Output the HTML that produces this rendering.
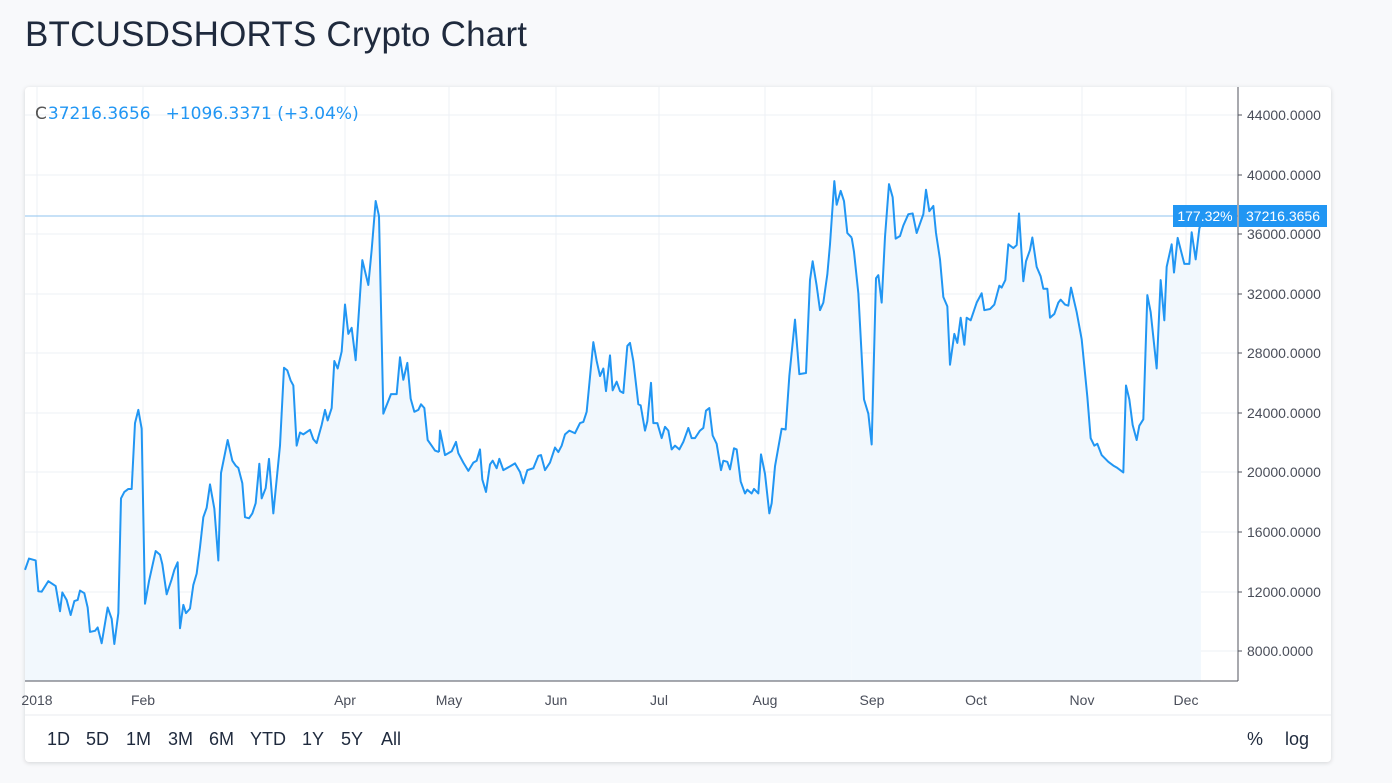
<!DOCTYPE html>
<html><head><meta charset="utf-8"><style>
body{margin:0;width:1392px;height:783px;background:#f8f9fb;font-family:"Liberation Sans",sans-serif;overflow:hidden;position:relative}
.title{position:absolute;left:25px;top:15px;font-size:35px;color:#1f2a3d;letter-spacing:0.2px}
.card{position:absolute;left:25px;top:87px;width:1306px;height:675px;background:#fff;border-radius:4px;box-shadow:0 1px 5px rgba(0,0,0,0.15)}
svg{position:absolute;left:0;top:0}
.tb{position:absolute;top:729px;font-size:18px;color:#1f2a3d}
</style></head><body>
<div class="title">BTCUSDSHORTS Crypto Chart</div>
<div class="card"></div>
<svg width="1392" height="783" font-family="Liberation Sans, sans-serif">
<g stroke="#eef1f5" stroke-width="1">
<line x1="25" x2="1238" y1="115" y2="115"/><line x1="25" x2="1238" y1="175" y2="175"/><line x1="25" x2="1238" y1="234" y2="234"/><line x1="25" x2="1238" y1="294" y2="294"/><line x1="25" x2="1238" y1="353" y2="353"/><line x1="25" x2="1238" y1="413" y2="413"/><line x1="25" x2="1238" y1="472" y2="472"/><line x1="25" x2="1238" y1="532" y2="532"/><line x1="25" x2="1238" y1="592" y2="592"/><line x1="25" x2="1238" y1="651" y2="651"/>
<line x1="37" x2="37" y1="87" y2="681"/><line x1="143" x2="143" y1="87" y2="681"/><line x1="345" x2="345" y1="87" y2="681"/><line x1="449" x2="449" y1="87" y2="681"/><line x1="556" x2="556" y1="87" y2="681"/><line x1="659" x2="659" y1="87" y2="681"/><line x1="765" x2="765" y1="87" y2="681"/><line x1="872" x2="872" y1="87" y2="681"/><line x1="976" x2="976" y1="87" y2="681"/><line x1="1082" x2="1082" y1="87" y2="681"/><line x1="1186" x2="1186" y1="87" y2="681"/>
</g>
<g fill="#f2f8fd" stroke="none">
<polygon transform="translate(25,90) scale(0.33333,0.37636)" points="0,1570 0,1275 12,1245 32,1250 40,1332 50,1333 70,1305 92,1318 105,1385 112,1335 125,1355 137,1395 148,1358 158,1355 165,1330 178,1337 188,1375 195,1440 210,1437 218,1428 230,1470 248,1375 260,1405 268,1472 280,1390 288,1085 298,1068 310,1060 320,1060 330,885 340,850 350,900 360,1365 372,1305 382,1265 392,1225 405,1235 412,1260 425,1340 440,1300 448,1275 458,1255 465,1430 475,1368 483,1390 495,1378 505,1315 515,1285 525,1215 535,1135 545,1110 555,1048 568,1112 580,1250 588,1018 608,930 622,985 632,998 640,1004 652,1045 660,1135 672,1138 682,1125 692,1098 703,993 710,1085 722,1058 732,980 745,1125 765,945 777,738 787,745 797,772 805,785 815,945 825,910 835,915 855,903 865,928 875,938 890,890 900,850 908,878 920,845 928,720 938,740 950,695 960,570 970,648 980,632 992,718 1012,452 1030,518 1040,425 1052,295 1062,335 1075,860 1098,808 1115,808 1125,710 1135,770 1147,725 1157,820 1168,855 1180,850 1188,835 1198,845 1208,930 1220,945 1230,958 1242,962 1245,1570"/>
<polygon transform="translate(440,90) scale(0.33333,0.37636)" points="-3,1570 -3,962 0,905 15,970 35,960 48,935 55,965 70,990 85,1012 100,990 110,985 120,955 127,1035 138,1068 150,995 158,985 170,1005 178,980 190,1010 210,1000 225,992 240,1015 250,1045 262,1010 280,1005 295,972 303,970 315,1010 330,990 345,950 355,962 365,945 375,915 388,905 405,912 420,885 430,882 440,855 460,670 470,720 480,760 490,740 498,800 510,705 518,798 530,775 540,800 550,805 562,680 570,672 580,720 595,835 602,838 615,905 622,880 633,778 640,885 652,885 665,925 675,895 685,905 695,955 705,945 718,955 730,935 745,898 755,925 765,925 780,905 790,898 798,852 808,845 818,918 830,940 843,1010 850,985 862,988 870,1008 882,952 890,955 902,1040 915,1072 922,1062 935,1072 942,1060 955,1072 963,968 975,1020 988,1125 995,1098 1005,1000 1025,900 1037,902 1048,760 1065,610 1078,755 1098,752 1110,505 1118,455 1130,520 1140,585 1150,565 1162,490 1170,410 1183,242 1190,305 1202,268 1212,295 1222,380 1235,392 1235,1570"/>
<polygon transform="translate(850,90) scale(0.33333,0.37636)" points="5,1570 5,392 12,430 25,540 42,822 55,860 65,942 78,500 85,492 95,565 105,390 117,250 128,285 137,395 150,388 160,360 175,330 188,328 200,380 220,330 228,265 238,322 250,308 258,380 270,450 280,550 292,575 300,730 313,648 322,672 332,605 343,677 350,605 362,612 380,565 395,540 403,585 420,582 433,570 448,520 455,525 466,505 475,410 490,420 500,412 507,328 520,508 528,455 540,425 547,392 560,470 572,495 580,528 592,528 600,605 613,595 625,565 632,557 645,570 655,573 663,525 680,590 695,662 712,815 722,925 733,945 742,940 755,970 775,988 790,998 800,1003 820,1016 828,785 838,822 848,890 860,930 868,892 880,875 892,545 902,590 920,740 932,505 943,612 950,470 965,410 972,485 983,393 1003,462 1018,462 1025,378 1037,450 1048,368 1053,355 1053,1570"/>
</g>
<line x1="25" x2="1238" y1="216" y2="216" stroke="#8fc3ef" stroke-width="1"/>
<g fill="none" stroke="#2196f3" stroke-width="2" stroke-linejoin="round">
<polyline vector-effect="non-scaling-stroke" transform="translate(25,90) scale(0.33333,0.37636)" points="0,1275 12,1245 32,1250 40,1332 50,1333 70,1305 92,1318 105,1385 112,1335 125,1355 137,1395 148,1358 158,1355 165,1330 178,1337 188,1375 195,1440 210,1437 218,1428 230,1470 248,1375 260,1405 268,1472 280,1390 288,1085 298,1068 310,1060 320,1060 330,885 340,850 350,900 360,1365 372,1305 382,1265 392,1225 405,1235 412,1260 425,1340 440,1300 448,1275 458,1255 465,1430 475,1368 483,1390 495,1378 505,1315 515,1285 525,1215 535,1135 545,1110 555,1048 568,1112 580,1250 588,1018 608,930 622,985 632,998 640,1004 652,1045 660,1135 672,1138 682,1125 692,1098 703,993 710,1085 722,1058 732,980 745,1125 765,945 777,738 787,745 797,772 805,785 815,945 825,910 835,915 855,903 865,928 875,938 890,890 900,850 908,878 920,845 928,720 938,740 950,695 960,570 970,648 980,632 992,718 1012,452 1030,518 1040,425 1052,295 1062,335 1075,860 1098,808 1115,808 1125,710 1135,770 1147,725 1157,820 1168,855 1180,850 1188,835 1198,845 1208,930 1220,945 1230,958 1242,962"/>
<polyline vector-effect="non-scaling-stroke" transform="translate(440,90) scale(0.33333,0.37636)" points="-3,962 0,905 15,970 35,960 48,935 55,965 70,990 85,1012 100,990 110,985 120,955 127,1035 138,1068 150,995 158,985 170,1005 178,980 190,1010 210,1000 225,992 240,1015 250,1045 262,1010 280,1005 295,972 303,970 315,1010 330,990 345,950 355,962 365,945 375,915 388,905 405,912 420,885 430,882 440,855 460,670 470,720 480,760 490,740 498,800 510,705 518,798 530,775 540,800 550,805 562,680 570,672 580,720 595,835 602,838 615,905 622,880 633,778 640,885 652,885 665,925 675,895 685,905 695,955 705,945 718,955 730,935 745,898 755,925 765,925 780,905 790,898 798,852 808,845 818,918 830,940 843,1010 850,985 862,988 870,1008 882,952 890,955 902,1040 915,1072 922,1062 935,1072 942,1060 955,1072 963,968 975,1020 988,1125 995,1098 1005,1000 1025,900 1037,902 1048,760 1065,610 1078,755 1098,752 1110,505 1118,455 1130,520 1140,585 1150,565 1162,490 1170,410 1183,242 1190,305 1202,268 1212,295 1222,380 1235,392"/>
<polyline vector-effect="non-scaling-stroke" transform="translate(850,90) scale(0.33333,0.37636)" points="5,392 12,430 25,540 42,822 55,860 65,942 78,500 85,492 95,565 105,390 117,250 128,285 137,395 150,388 160,360 175,330 188,328 200,380 220,330 228,265 238,322 250,308 258,380 270,450 280,550 292,575 300,730 313,648 322,672 332,605 343,677 350,605 362,612 380,565 395,540 403,585 420,582 433,570 448,520 455,525 466,505 475,410 490,420 500,412 507,328 520,508 528,455 540,425 547,392 560,470 572,495 580,528 592,528 600,605 613,595 625,565 632,557 645,570 655,573 663,525 680,590 695,662 712,815 722,925 733,945 742,940 755,970 775,988 790,998 800,1003 820,1016 828,785 838,822 848,890 860,930 868,892 880,875 892,545 902,590 920,740 932,505 943,612 950,470 965,410 972,485 983,393 1003,462 1018,462 1025,378 1037,450 1048,368 1053,355"/>
</g>
<line x1="1238" x2="1238" y1="87" y2="681" stroke="#50535e" stroke-width="1"/>
<line x1="25" x2="1238" y1="681" y2="681" stroke="#50535e" stroke-width="1"/>
<line x1="25" x2="1331" y1="715" y2="715" stroke="#e8ebef" stroke-width="1"/>
<g stroke="#50535e"><line x1="1238" x2="1242" y1="115" y2="115"/><line x1="1238" x2="1242" y1="175" y2="175"/><line x1="1238" x2="1242" y1="234" y2="234"/><line x1="1238" x2="1242" y1="294" y2="294"/><line x1="1238" x2="1242" y1="353" y2="353"/><line x1="1238" x2="1242" y1="413" y2="413"/><line x1="1238" x2="1242" y1="472" y2="472"/><line x1="1238" x2="1242" y1="532" y2="532"/><line x1="1238" x2="1242" y1="592" y2="592"/><line x1="1238" x2="1242" y1="651" y2="651"/></g>
<g font-size="14" fill="#4a4e5a">
<text x="1247" y="120">44000.0000</text><text x="1247" y="180">40000.0000</text><text x="1247" y="239">36000.0000</text><text x="1247" y="299">32000.0000</text><text x="1247" y="358">28000.0000</text><text x="1247" y="418">24000.0000</text><text x="1247" y="477">20000.0000</text><text x="1247" y="537">16000.0000</text><text x="1247" y="597">12000.0000</text><text x="1247" y="656">8000.0000</text>
</g>
<g font-size="14" fill="#4a4e5a" text-anchor="middle">
<text x="37" y="705">2018</text><text x="143" y="705">Feb</text><text x="345" y="705">Apr</text><text x="449" y="705">May</text><text x="556" y="705">Jun</text><text x="659" y="705">Jul</text><text x="765" y="705">Aug</text><text x="872" y="705">Sep</text><text x="976" y="705">Oct</text><text x="1082" y="705">Nov</text><text x="1186" y="705">Dec</text>
</g>
<rect x="1173" y="205" width="64" height="22" fill="#2196f3"/>
<text x="1205" y="221" font-size="14" fill="#fff" text-anchor="middle">177.32%</text>
<rect x="1239" y="205" width="88" height="22" fill="#2196f3"/>
<text x="1283" y="221" font-size="14" fill="#fff" text-anchor="middle">37216.3656</text>
<text x="35" y="119" font-size="17" font-family="DejaVu Sans, sans-serif" fill="#555"><tspan>C</tspan><tspan fill="#2196f3" dx="1">37216.3656</tspan><tspan fill="#2196f3" dx="15">+1096.3371 (+3.04%)</tspan></text>
</svg>
<div class="tb" style="left:47px">1D</div><div class="tb" style="left:86px">5D</div><div class="tb" style="left:126px">1M</div><div class="tb" style="left:168px">3M</div><div class="tb" style="left:209px">6M</div><div class="tb" style="left:250px">YTD</div><div class="tb" style="left:302px">1Y</div><div class="tb" style="left:341px">5Y</div><div class="tb" style="left:381px">All</div>
<div class="tb" style="left:1247px">%</div><div class="tb" style="left:1285px">log</div>
</body></html>
